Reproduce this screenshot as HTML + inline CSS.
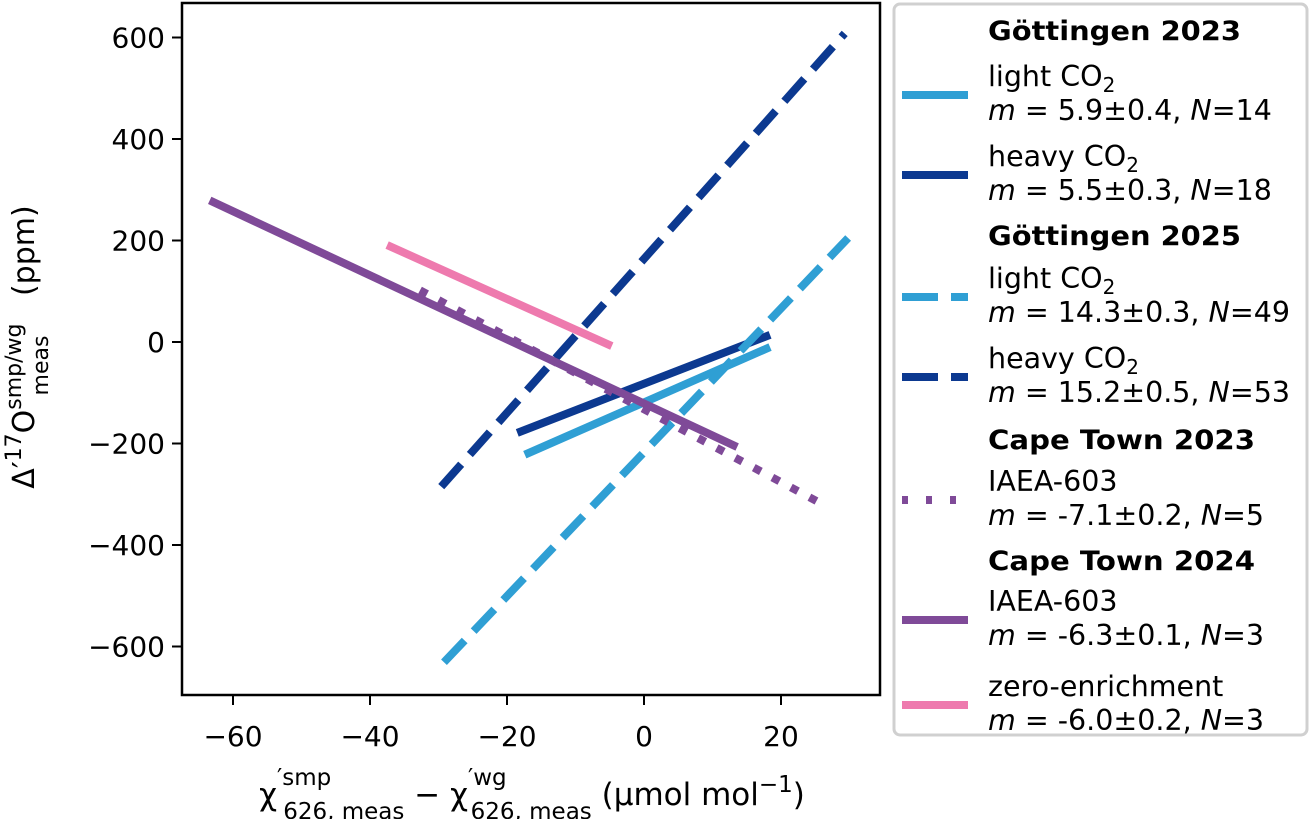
<!DOCTYPE html>
<html><head><meta charset="utf-8"><style>
body{margin:0;background:#fff;}
svg text{font-family:"DejaVu Sans","Liberation Sans",sans-serif;}
</style></head><body>
<svg id="chart" width="1311" height="819" viewBox="0 0 1311 819" xmlns="http://www.w3.org/2000/svg">
<g id="marks"></g>
<rect x="182" y="3" width="698" height="692" fill="none" stroke="#000" stroke-width="2.5"/>
<g id="axes"></g>
<text x="532" y="805" font-size="31" text-anchor="middle">χ<tspan font-size="23" dy="-20">′smp</tspan><tspan font-size="23" dx="-48" dy="34">626, meas</tspan><tspan dy="-14"> − χ</tspan><tspan font-size="23" dy="-20">′wg</tspan><tspan font-size="23" dx="-36" dy="34">626, meas</tspan><tspan dy="-14"> (µmol mol</tspan><tspan font-size="23" dy="-13">−1</tspan><tspan dy="13">)</tspan></text>
<text transform="translate(34,347) rotate(-90)" font-size="30" text-anchor="middle">Δ′<tspan font-size="22" dy="-13">17</tspan><tspan dy="13">O</tspan><tspan font-size="22" dy="-13">smp/wg</tspan><tspan font-size="22" dx="-72" dy="27">meas</tspan><tspan dy="-14" dx="30"> (ppm)</tspan></text>
<g>
<rect x="894" y="4" width="413" height="731" rx="6" fill="#fff" stroke="#d0d0d0" stroke-width="3"/>
<g id="legend-items"></g>
</g>
</svg>
<script>
const xTicks=[-60,-40,-20,0,20];
const yTicks=[-600,-400,-200,0,200,400,600];
const seriesNames=["light23","heavy23","light25","heavy25","ct23","ct24","zero"];
const xStart=[-17.4,-18.5,-29.2,-29.6,-32.7,-63.4,-37.5];
const xEnd=[18.4,18.4,29.8,29.3,25.7,13.6,-4.7];
const yStart=[-222,-179,-631,-285,102,279,191];
const yEnd=[-10,14,205,608,-317,-207,-8];
const colors=["#2f9fd4","#0c3990","#2f9fd4","#0c3990","#7f4a98","#7f4a98","#ee7aae"];
const dashes=["","","30,13","30,13","8,13","",""];
const ns="http://www.w3.org/2000/svg";
function X(v){return 644+v*6.85;}
function Y(v){return 342-v*0.5075;}
const marks=document.getElementById('marks');
for(let i=0;i<seriesNames.length;i++){
  const l=document.createElementNS(ns,'line');
  l.setAttribute('x1',X(xStart[i]));l.setAttribute('y1',Y(yStart[i]));
  l.setAttribute('x2',X(xEnd[i]));l.setAttribute('y2',Y(yEnd[i]));
  l.setAttribute('stroke',colors[i]);l.setAttribute('stroke-width','8');
  if(dashes[i])l.setAttribute('stroke-dasharray',dashes[i]);
  
  
  marks.appendChild(l);
}
const axes=document.getElementById('axes');
xTicks.forEach(t=>{
  const l=document.createElementNS(ns,'line');
  l.setAttribute('x1',X(t));l.setAttribute('x2',X(t));l.setAttribute('y1',695);l.setAttribute('y2',705);
  l.setAttribute('stroke','#000');l.setAttribute('stroke-width','2');
  
  
  axes.appendChild(l);
  const tx=document.createElementNS(ns,'text');
  tx.setAttribute('x',X(t));tx.setAttribute('y',746);tx.setAttribute('font-size','28');tx.setAttribute('text-anchor','middle');
  tx.textContent=(t<0?'−':'')+Math.abs(t);
  
  
  axes.appendChild(tx);
});
yTicks.forEach(t=>{
  const l=document.createElementNS(ns,'line');
  l.setAttribute('x1',172);l.setAttribute('x2',182);l.setAttribute('y1',Y(t));l.setAttribute('y2',Y(t));
  l.setAttribute('stroke','#000');l.setAttribute('stroke-width','2');
  
  
  axes.appendChild(l);
  const tx=document.createElementNS(ns,'text');
  tx.setAttribute('x',165);tx.setAttribute('y',Y(t)+10);tx.setAttribute('font-size','28');tx.setAttribute('text-anchor','end');
  tx.textContent=(t<0?'−':'')+Math.abs(t);
  
  
  axes.appendChild(tx);
});
const leg=document.getElementById('legend-items');
const headers=[["Göttingen 2023",40],["Göttingen 2025",245],["Cape Town 2023",449],["Cape Town 2024",570]];
headers.forEach(h=>{
  const t=document.createElementNS(ns,'text');
  t.setAttribute('x',988);t.setAttribute('y',h[1]);t.setAttribute('font-size','27');t.setAttribute('font-weight','bold');
  t.setAttribute('textLength',h[0].startsWith('G')?'253':'267');
  t.setAttribute('lengthAdjust','spacingAndGlyphs');
  t.textContent=h[0];
  
  
  leg.appendChild(t);
});
const legY=[95,175,297,377,500,620,705];
const legL1=["light CO|2","heavy CO|2","light CO|2","heavy CO|2","IAEA-603","IAEA-603","zero-enrichment"];
const legL2=[["5.9±0.4","14"],["5.5±0.3","18"],["14.3±0.3","49"],["15.2±0.5","53"],["-7.1±0.2","5"],["-6.3±0.1","3"],["-6.0±0.2","3"]];
for(let i=0;i<legY.length;i++){
  const g=document.createElementNS(ns,'g');
  
  
  const l=document.createElementNS(ns,'line');
  l.setAttribute('x1',902);l.setAttribute('x2',968);l.setAttribute('y1',legY[i]);l.setAttribute('y2',legY[i]);
  l.setAttribute('stroke',colors[i]);l.setAttribute('stroke-width','8');
  if(dashes[i])l.setAttribute('stroke-dasharray',i==4?'6,18':dashes[i].replace('30','36'));
  g.appendChild(l);
  const t1=document.createElementNS(ns,'text');
  t1.setAttribute('x',988);t1.setAttribute('y',legY[i]-9);t1.setAttribute('font-size','28.5');
  const p=legL1[i].split('|');
  t1.innerHTML=p[0]+(p[1]?'<tspan font-size="20" dy="6">'+p[1]+'</tspan>':'');
  g.appendChild(t1);
  const t2=document.createElementNS(ns,'text');
  t2.setAttribute('x',988);t2.setAttribute('y',legY[i]+25);t2.setAttribute('font-size','28.5');
  t2.innerHTML='<tspan font-style="italic">m</tspan> = '+legL2[i][0]+', <tspan font-style="italic">N</tspan>='+legL2[i][1];
  g.appendChild(t2);
  leg.appendChild(g);
}
</script>
</body></html>
